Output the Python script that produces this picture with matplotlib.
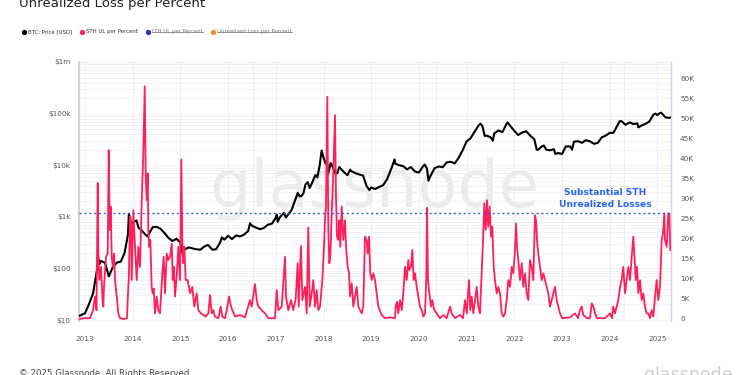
import matplotlib
matplotlib.use("Agg")
import matplotlib.pyplot as plt
from matplotlib.lines import Line2D
from matplotlib.ticker import FixedLocator, NullFormatter
import numpy as np

# ---------------- data ----------------
btc_year = [2012.874, 2012.92, 2013.00, 2013.08, 2013.17, 2013.25, 2013.27, 2013.30, 2013.33, 2013.42,
            2013.50, 2013.58, 2013.67, 2013.75, 2013.83, 2013.90, 2013.92, 2013.96, 2014.00, 2014.08,
            2014.12, 2014.17, 2014.25, 2014.30, 2014.33, 2014.42, 2014.50, 2014.58, 2014.67, 2014.75,
            2014.83, 2014.92, 2015.00, 2015.04, 2015.08, 2015.17, 2015.25, 2015.33, 2015.42, 2015.50,
            2015.58, 2015.67, 2015.75, 2015.83, 2015.87, 2015.92, 2016.00, 2016.08, 2016.17, 2016.25,
            2016.33, 2016.42, 2016.46, 2016.50, 2016.58, 2016.67, 2016.75, 2016.83, 2016.92, 2017.00,
            2017.02, 2017.04, 2017.08, 2017.17, 2017.21, 2017.25, 2017.33, 2017.42, 2017.46, 2017.50,
            2017.54, 2017.58, 2017.62, 2017.67, 2017.71, 2017.75, 2017.83, 2017.87, 2017.92, 2017.96,
            2018.00, 2018.04, 2018.08, 2018.10, 2018.15, 2018.17, 2018.25, 2018.29, 2018.33, 2018.42,
            2018.50, 2018.56, 2018.58, 2018.67, 2018.75, 2018.83, 2018.90, 2018.96, 2019.00, 2019.08,
            2019.17, 2019.25, 2019.33, 2019.42, 2019.49, 2019.50, 2019.58, 2019.67, 2019.75, 2019.83,
            2019.92, 2020.00, 2020.08, 2020.12, 2020.17, 2020.20, 2020.25, 2020.33, 2020.42, 2020.50,
            2020.58, 2020.67, 2020.75, 2020.83, 2020.92, 2021.00, 2021.08, 2021.17, 2021.25, 2021.29,
            2021.33, 2021.38, 2021.42, 2021.50, 2021.55, 2021.58, 2021.67, 2021.75, 2021.83, 2021.86,
            2021.92, 2022.00, 2022.08, 2022.17, 2022.25, 2022.33, 2022.42, 2022.47, 2022.50, 2022.58,
            2022.62, 2022.67, 2022.75, 2022.83, 2022.86, 2022.92, 2023.00, 2023.08, 2023.17, 2023.21,
            2023.25, 2023.33, 2023.42, 2023.50, 2023.58, 2023.67, 2023.75, 2023.83, 2023.92, 2024.00,
            2024.08, 2024.17, 2024.21, 2024.25, 2024.33, 2024.42, 2024.50, 2024.58, 2024.60, 2024.67,
            2024.75, 2024.83, 2024.92, 2024.96, 2025.00, 2025.05, 2025.08, 2025.17, 2025.25, 2025.27]
btc_price = [12, 12.5, 13.5, 20, 33, 93, 180, 120, 140, 128,
             70, 105, 130, 135, 200, 450, 1150, 700, 770, 850,
             620, 560, 470, 420, 450, 630, 640, 590, 480, 390,
             340, 375, 315, 200, 230, 255, 245, 235, 230, 265,
             285, 230, 236, 315, 400, 360, 430, 370, 437, 416,
             450, 530, 750, 670, 620, 575, 608, 700, 740, 960,
             1100, 800, 970, 1190, 970, 1080, 1350, 2300, 2900, 2480,
             2550, 2870, 4200, 4700, 3600, 4340, 6450, 5800, 9900, 19300,
             14000, 11000, 10200, 6900, 11000, 10300, 6900, 7000, 9200, 7500,
             6400, 8200, 7700, 7000, 6600, 6300, 4000, 3300, 3700, 3450,
             3800, 4100, 5300, 8500, 12900, 10800, 10000, 9600, 8300, 9200,
             7500, 7200, 9350, 10300, 8600, 5000, 6400, 8800, 9450, 9150,
             11300, 11650, 10800, 13800, 19700, 29000, 33000, 45000, 58800, 63500,
             57700, 37000, 37300, 35000, 30000, 41500, 47100, 43800, 61300, 67500,
             57000, 46300, 38500, 43200, 45500, 37700, 31800, 20000, 19900, 23300,
             24000, 20000, 19400, 20500, 16500, 17200, 16500, 23100, 23100, 20000,
             28500, 29200, 27200, 30500, 29200, 26000, 27000, 34500, 37700, 42300,
             42600, 61200, 71300, 71300, 60600, 67500, 62700, 64600, 54000, 59000,
             63300, 70200, 96400, 100000, 93400, 102400, 104000, 84400, 82500, 84000]

sth_year = [2012.853, 2013.000, 2013.105, 2013.168, 2013.210, 2013.241, 2013.266, 2013.279, 2013.300, 2013.335,
            2013.363, 2013.384, 2013.398, 2013.440, 2013.476, 2013.497, 2013.518, 2013.539, 2013.560, 2013.581,
            2013.608, 2013.629, 2013.665, 2013.698, 2013.734, 2013.818, 2013.880, 2013.895, 2013.922, 2013.943,
            2013.964, 2013.979, 2014.013, 2014.048, 2014.084, 2014.117, 2014.153, 2014.189, 2014.222, 2014.252,
            2014.273, 2014.294, 2014.315, 2014.327, 2014.348, 2014.369, 2014.398, 2014.419, 2014.440, 2014.468,
            2014.503, 2014.537, 2014.572, 2014.621, 2014.650, 2014.677, 2014.713, 2014.746, 2014.782, 2014.818,
            2014.839, 2014.866, 2014.887, 2014.922, 2014.956, 2014.992, 2015.019, 2015.040, 2015.061, 2015.082,
            2015.111, 2015.153, 2015.201, 2015.249, 2015.291, 2015.342, 2015.375, 2015.432, 2015.480, 2015.530,
            2015.585, 2015.621, 2015.656, 2015.690, 2015.725, 2015.795, 2015.845, 2015.878, 2015.935, 2015.971,
            2016.019, 2016.061, 2016.088, 2016.145, 2016.250, 2016.354, 2016.459, 2016.495, 2016.564, 2016.600,
            2016.633, 2016.704, 2016.774, 2016.843, 2016.983, 2017.019, 2017.052, 2017.124, 2017.193, 2017.214,
            2017.262, 2017.319, 2017.367, 2017.417, 2017.459, 2017.480, 2017.528, 2017.556, 2017.612, 2017.648,
            2017.681, 2017.711, 2017.753, 2017.786, 2017.822, 2017.857, 2017.891, 2017.927, 2017.975, 2018.010,
            2018.031, 2018.052, 2018.080, 2018.101, 2018.122, 2018.143, 2018.172, 2018.205, 2018.241, 2018.262,
            2018.283, 2018.310, 2018.331, 2018.352, 2018.382, 2018.415, 2018.451, 2018.472, 2018.507, 2018.535,
            2018.556, 2018.591, 2018.625, 2018.660, 2018.696, 2018.730, 2018.765, 2018.801, 2018.834, 2018.870,
            2018.905, 2018.926, 2018.954, 2018.981, 2019.010, 2019.044, 2019.080, 2019.115, 2019.149, 2019.220,
            2019.289, 2019.394, 2019.499, 2019.514, 2019.541, 2019.568, 2019.604, 2019.640, 2019.673, 2019.709,
            2019.744, 2019.778, 2019.799, 2019.834, 2019.862, 2019.891, 2019.918, 2019.954, 2019.987, 2020.023,
            2020.059, 2020.092, 2020.128, 2020.155, 2020.170, 2020.191, 2020.218, 2020.254, 2020.281, 2020.323,
            2020.373, 2020.442, 2020.512, 2020.583, 2020.652, 2020.688, 2020.757, 2020.862, 2020.925, 2020.966,
            2021.002, 2021.050, 2021.077, 2021.107, 2021.141, 2021.176, 2021.212, 2021.245, 2021.281, 2021.316,
            2021.344, 2021.371, 2021.400, 2021.428, 2021.455, 2021.484, 2021.512, 2021.539, 2021.568, 2021.595,
            2021.631, 2021.665, 2021.700, 2021.736, 2021.769, 2021.805, 2021.840, 2021.874, 2021.910, 2021.945,
            2021.979, 2022.015, 2022.036, 2022.057, 2022.084, 2022.119, 2022.155, 2022.189, 2022.224, 2022.260,
            2022.293, 2022.329, 2022.363, 2022.398, 2022.433, 2022.455, 2022.476, 2022.503, 2022.539, 2022.574,
            2022.608, 2022.644, 2022.679, 2022.713, 2022.748, 2022.784, 2022.818, 2022.853, 2022.889, 2022.922,
            2022.958, 2023.006, 2023.168, 2023.273, 2023.335, 2023.377, 2023.413, 2023.447, 2023.524, 2023.587,
            2023.623, 2023.656, 2023.692, 2023.734, 2023.902, 2024.006, 2024.048, 2024.075, 2024.111, 2024.180,
            2024.216, 2024.251, 2024.285, 2024.321, 2024.356, 2024.390, 2024.426, 2024.461, 2024.495, 2024.516,
            2024.545, 2024.572, 2024.600, 2024.635, 2024.671, 2024.704, 2024.740, 2024.776, 2024.809, 2024.845,
            2024.880, 2024.914, 2024.950, 2024.985, 2025.019, 2025.054, 2025.090, 2025.117, 2025.145, 2025.159,
            2025.195, 2025.229, 2025.250, 2025.270]
sth_value_k = [0.0, 0.2, 0.2, 2.2, 5.6, 2.2, 33.9, 16.3, 9.7, 13.0,
               5.6, 3.1, 8.0, 15.5, 16.3, 42.1, 22.2, 28.0, 15.5, 13.0,
               16.3, 9.7, 5.6, 1.4, 0.2, 0.0, 0.2, 4.7, 11.4, 25.5,
               24.6, 9.7, 27.1, 18.0, 9.7, 18.0, 13.0, 29.6, 41.2, 58.0,
               35.4, 29.6, 36.3, 22.2, 18.0, 19.7, 8.0, 6.4, 7.6, 1.4,
               5.6, 2.2, 1.4, 11.4, 15.5, 6.4, 16.3, 14.7, 15.5, 18.8,
               9.7, 13.0, 5.6, 10.5, 18.0, 9.7, 39.8, 19.7, 13.9, 18.0,
               9.7, 9.7, 6.4, 8.0, 3.1, 6.4, 2.2, 1.4, 1.0, 0.6,
               1.4, 6.0, 1.4, 2.2, 0.6, 0.2, 3.1, 0.6, 0.2, 2.2,
               5.6, 3.1, 2.2, 0.6, 1.0, 0.4, 4.7, 3.1, 8.7, 4.7,
               3.1, 2.2, 1.4, 0.2, 0.2, 7.2, 2.2, 3.1, 15.5, 5.6,
               2.2, 4.7, 2.2, 5.1, 13.9, 3.1, 18.2, 4.7, 8.0, 1.4,
               22.8, 3.1, 6.4, 9.7, 3.1, 7.2, 2.2, 3.1, 9.7, 18.0,
               24.6, 28.0, 55.4, 22.2, 13.9, 15.5, 26.3, 36.3, 50.8, 30.5,
               20.5, 19.7, 24.6, 18.0, 28.0, 19.7, 24.6, 18.0, 13.0, 11.4,
               5.6, 8.9, 3.1, 5.6, 8.0, 3.1, 2.2, 1.4, 3.1, 20.5,
               19.7, 16.3, 20.5, 11.4, 9.7, 11.4, 9.7, 6.4, 3.1, 1.0,
               0.2, 0.4, 0.2, 3.1, 4.3, 1.4, 4.7, 2.2, 6.4, 13.0,
               9.7, 14.7, 12.2, 13.0, 17.2, 9.7, 11.4, 8.0, 5.6, 3.1,
               2.2, 0.6, 1.4, 10.5, 27.7, 9.7, 6.4, 3.1, 4.7, 2.2,
               1.4, 0.2, 1.0, 0.2, 3.1, 1.4, 0.2, 1.0, 0.2, 4.7,
               1.4, 9.7, 2.2, 5.6, 1.4, 4.7, 8.0, 3.1, 1.4, 11.4,
               19.7, 28.8, 22.2, 29.6, 23.0, 28.0, 20.5, 23.0, 13.0, 9.7,
               6.4, 8.0, 6.4, 1.4, 0.6, 1.4, 4.7, 9.7, 8.0, 13.0,
               11.4, 17.2, 23.8, 18.0, 14.7, 9.7, 13.9, 8.0, 11.4, 6.4,
               4.7, 14.7, 13.0, 9.7, 25.9, 24.6, 19.7, 16.3, 13.0, 9.7,
               11.4, 9.7, 8.0, 6.4, 3.1, 4.7, 6.4, 8.0, 4.7, 3.1,
               1.4, 0.2, 0.4, 1.4, 0.2, 2.2, 3.1, 1.0, 0.2, 0.2,
               3.9, 3.1, 1.4, 0.2, 0.2, 1.4, 0.2, 3.1, 1.4, 4.7,
               8.0, 9.7, 13.0, 6.4, 9.7, 13.0, 9.7, 15.5, 20.5, 16.3,
               9.7, 13.0, 6.4, 9.7, 4.7, 6.4, 3.1, 1.4, 1.4, 0.2,
               2.2, 0.6, 5.6, 9.7, 4.7, 8.0, 19.7, 21.3, 26.3, 19.7,
               18.0, 26.3, 26.3, 17.2]

threshold_k = 26.3
year_ticks = list(range(2013, 2026))
halvings = [2016.52, 2020.36, 2024.30]
left_ticks = [10, 100, 1e3, 1e4, 1e5, 1e6]
left_labels = ["$10", "$100", "$1k", "$10k", "$100k", "$1m"]
right_ticks = list(range(0, 61, 5))
right_labels = ["0"] + [f"{v}K" for v in right_ticks[1:]]
legend_labels = ["BTC: Price [USD]", "STH UL per Percent", "LTH UL per Percent", "Unrealized Loss per Percent"]
legend_colors = ["#000000", "#ff1f5a", "#2233cc", "#f7931a"]

# ---------------- figure ----------------
W, H = 750, 375
fig = plt.figure(figsize=(7.5, 3.75), dpi=100)
fig.patch.set_facecolor("white")
fx = lambda px: px / W
fy = lambda py: 1 - py / H

ax = fig.add_axes([fx(79), fy(321), fx(671) - fx(79), fy(62) - fy(321)])
ax.set_yscale("log")
ax.set_ylim(10 ** (1 - 1 / 51.6), 1e6)
ax.set_xlim(2012.874, 2025.285)

ax.yaxis.set_major_locator(FixedLocator(left_ticks))
ax.set_yticklabels(left_labels)
minor = [m * 10 ** e for e in range(1, 6) for m in range(2, 10)]
ax.yaxis.set_minor_locator(FixedLocator(minor))
ax.yaxis.set_minor_formatter(NullFormatter())
ax.grid(axis="y", which="both", color="#efefef", lw=0.6, zorder=0)
for yv in year_ticks + halvings:
    ax.axvline(yv, color="#efefef", lw=0.7, zorder=0)

ax.set_xticks(year_ticks)
ax.set_xticklabels([str(y) for y in year_ticks])
ax.tick_params(axis="x", length=0, pad=10.5, labelsize=5.2, labelcolor="#555555")
ax.tick_params(axis="y", which="both", length=0, pad=6, labelsize=5.2, labelcolor="#555555")

for s in ["top", "bottom", "right"]:
    ax.spines[s].set_visible(False)
ax.spines["left"].set_color("#d4d4d4")
ax.spines["left"].set_linewidth(1.6)

# watermark
ax.text(0.499, 0.44, "glassnode", transform=ax.transAxes, ha="center", va="baseline",
        fontsize=47, color="#ebebeb", zorder=0.5)

ax.plot(btc_year, btc_price, color="#000000", lw=1.5, zorder=3)

ax2 = ax.twinx()
ax2.set_ylim(-0.5, 64.05)
ax2.set_yticks(right_ticks)
ax2.set_yticklabels(right_labels)
ax2.tick_params(axis="y", length=0, pad=6.5, labelsize=5.2, labelcolor="#555555")
for s in ["top", "bottom", "left"]:
    ax2.spines[s].set_visible(False)
ax2.spines["right"].set_color("#dccbf2")
ax2.spines["right"].set_linewidth(1.0)

ax2.plot(sth_year, sth_value_k, color="#ff1f5a", lw=1.3, zorder=3)
ax2.axhline(threshold_k, color="#2f5be8", lw=1.0, linestyle=(0, (1.5, 2)), zorder=4)
ax2.text(2023.90, threshold_k + 1.2, "Substantial STH\nUnrealized Losses", ha="center", va="bottom",
         fontsize=6.6, fontweight="bold", color="#2a66f5", linespacing=1.45, zorder=5)

# title
fig.text(fx(19), fy(7), "Unrealized Loss per Percent", fontsize=9.6, color="#222222",
         ha="left", va="baseline")

# legend
leg_dot_x = [24, 82, 148, 213]
leg_txt_x = [27.5, 86.5, 152, 217]
fig.canvas.draw()
renderer = fig.canvas.get_renderer()
for i, (lab, col) in enumerate(zip(legend_labels, legend_colors)):
    fig.add_artist(Line2D([fx(leg_dot_x[i])], [fy(32)], marker="o", markersize=2.8,
                          color=col, transform=fig.transFigure, linestyle="none"))
    tcol = "#333333" if i < 2 else "#777777"
    t = fig.text(fx(leg_txt_x[i]), fy(32), lab, fontsize=3.9, color=tcol, ha="left", va="center")
    if i >= 2:
        bb = t.get_window_extent(renderer=renderer)
        fig.add_artist(Line2D([bb.x0 / W, bb.x1 / W], [fy(32.3), fy(32.3)], color="#777777",
                              lw=0.5, transform=fig.transFigure))

# footer
fig.text(fx(19), fy(369), "\u00a9 2025 Glassnode. All Rights Reserved.", fontsize=6.2,
         color="#444444", ha="left", va="top")
fig.text(fx(733), fy(366), "glassnode", fontsize=12.5, color="#cfcfcf", ha="right", va="top")

fig.savefig("out.png", dpi=100, facecolor="white")
